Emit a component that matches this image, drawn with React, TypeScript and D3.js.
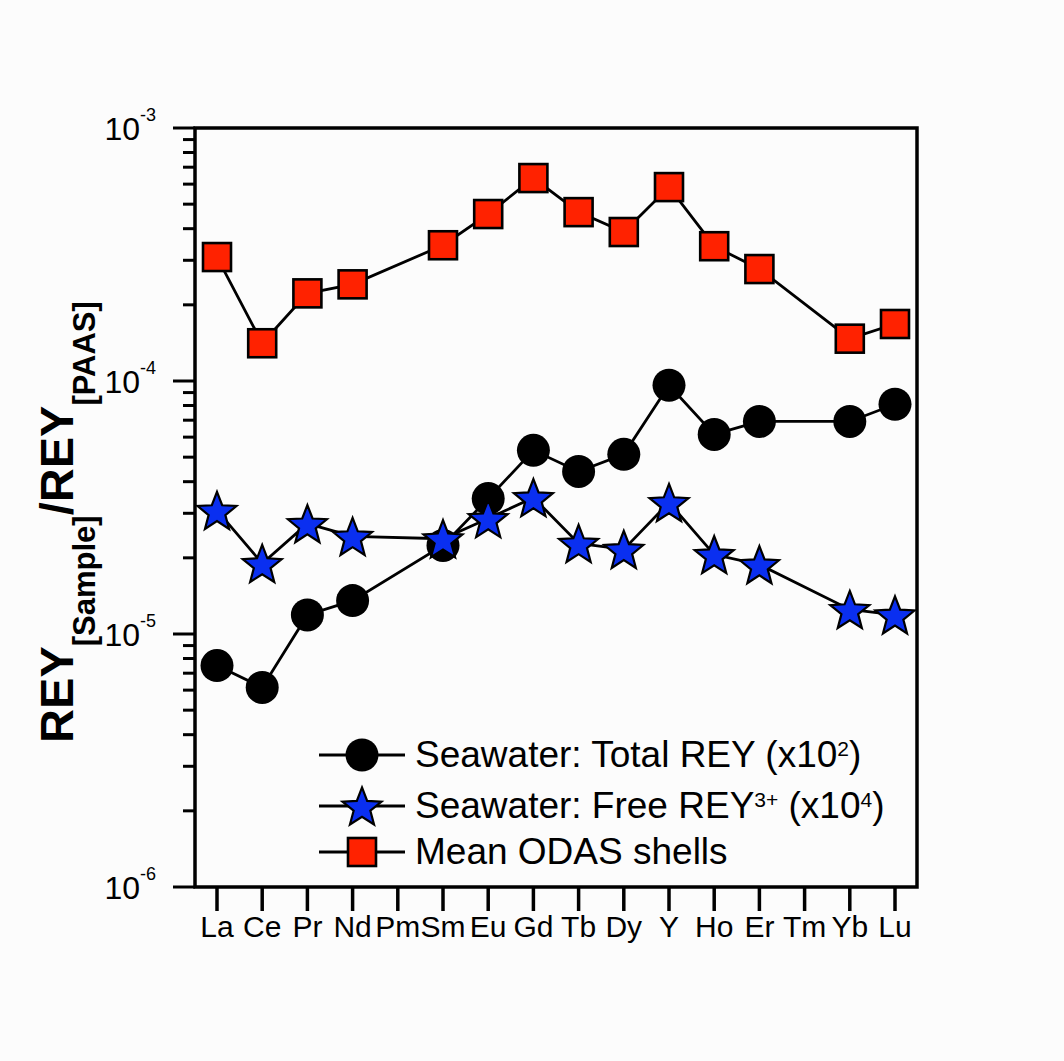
import React from "react";
import * as d3 from "d3";

const elements = ["La","Ce","Pr","Nd","Pm","Sm","Eu","Gd","Tb","Dy","Y","Ho","Er","Tm","Yb","Lu"];
const totalREY: (number | null)[] = [7.5e-6, 6.15e-6, 1.19e-5, 1.355e-5, null, 2.24e-5, 3.43e-5, 5.32e-5, 4.39e-5, 5.13e-5, 9.62e-5, 6.15e-5, 6.92e-5, null, 6.92e-5, 8.09e-5];
const freeREY: (number | null)[] = [3.08e-5, 1.9e-5, 2.73e-5, 2.43e-5, null, 2.38e-5, 2.86e-5, 3.46e-5, 2.28e-5, 2.16e-5, 3.31e-5, 2.06e-5, 1.88e-5, null, 1.25e-5, 1.19e-5];
const odasShells: (number | null)[] = [3.09e-4, 1.41e-4, 2.22e-4, 2.41e-4, null, 3.44e-4, 4.57e-4, 6.34e-4, 4.65e-4, 3.88e-4, 5.84e-4, 3.41e-4, 2.77e-4, null, 1.47e-4, 1.68e-4];
const yDomain = [1e-6, 1e-3];
const majorTickExps = [-6, -5, -4, -3];
const legendLabels = ["Seawater: Total REY (x10", "Seawater: Free REY", "Mean ODAS shells"];

const W = 1064, H = 1061;
const L = 195, R = 917, T = 128, B = 887;

const FONT = "'Liberation Sans', Arial, sans-serif";

function starPath(Ro: number, ri: number) {
  const pts: string[] = [];
  const off = 0.095 * Ro;
  for (let i = 0; i < 10; i++) {
    const r = i % 2 === 0 ? Ro : ri;
    const a = -Math.PI / 2 + (i * Math.PI) / 5;
    pts.push(`${(r * Math.cos(a)).toFixed(2)},${(r * Math.sin(a) + off).toFixed(2)}`);
  }
  return "M" + pts.join("L") + "Z";
}

const STAR = starPath(20.5, 8.8);
const LW = 2.8;

export default function App() {
  const x = d3.scalePoint<string>().domain(elements).range([217, 895]);
  const y = d3.scaleLog().domain(yDomain).range([B, T]);
  const line = d3.line<[number, number]>().x(d => d[0]).y(d => d[1]);
  const pts = (vals: (number | null)[]) =>
    elements.map((e, i) => [e, vals[i]] as [string, number | null])
      .filter(d => d[1] != null)
      .map(d => [x(d[0]) as number, y(d[1] as number)] as [number, number]);

  const tot = pts(totalREY), fr = pts(freeREY), od = pts(odasShells);
  const ticks = y.ticks();
  const isMajor = (v: number) => Math.abs(Math.log10(v) - Math.round(Math.log10(v))) < 1e-9;

  const legY = [755, 806, 852];

  return (
    <svg width={W} height={H} style={{ position: "absolute", left: 0, top: 0, background: "#fcfcfc" }} fontFamily={FONT}>
      <rect x={0} y={0} width={W} height={H} fill="#fcfcfc" />
      {/* y ticks */}
      {ticks.map((t, i) => (
        <line key={"yt" + i} x1={isMajor(t) ? 173 : 183} x2={L} y1={y(t)} y2={y(t)} stroke="#000" strokeWidth={3} />
      ))}
      {majorTickExps.map(e => (
        <text key={"yl" + e} x={156} y={y(Math.pow(10, e)) + 12} textAnchor="end" fontSize={32} fill="#000">
          10<tspan fontSize={18} dy={-19}>{String(e)}</tspan>
        </text>
      ))}
      {/* x ticks */}
      {elements.map(e => (
        <g key={"xt" + e}>
          <line x1={x(e)} x2={x(e)} y1={B} y2={911} stroke="#000" strokeWidth={3.5} />
          <text x={x(e)} y={937} textAnchor="middle" fontSize={30} fill="#000">{e}</text>
        </g>
      ))}
      <rect x={L} y={T} width={R - L} height={B - T} fill="none" stroke="#000" strokeWidth={3.5} />

      {/* Total REY */}
      <path d={line(tot) || ""} fill="none" stroke="#000" strokeWidth={LW} />
      {tot.map((p, i) => <circle key={"c" + i} cx={p[0]} cy={p[1]} r={16.5} fill="#000" />)}
      {/* Free REY */}
      <path d={line(fr) || ""} fill="none" stroke="#000" strokeWidth={LW} />
      {fr.map((p, i) => <path key={"s" + i} d={STAR} transform={`translate(${p[0]},${p[1]})`} fill="#0a2ff0" stroke="#000" strokeWidth={2.2} />)}
      {/* ODAS */}
      <path d={line(od) || ""} fill="none" stroke="#000" strokeWidth={LW} />
      {od.map((p, i) => <rect key={"q" + i} x={p[0] - 14} y={p[1] - 14} width={28} height={28} fill="#ff2200" stroke="#000" strokeWidth={2.6} />)}

      {/* legend */}
      {legY.map((ly, i) => (
        <line key={"ll" + i} x1={319} x2={405} y1={ly} y2={ly} stroke="#000" strokeWidth={LW} />
      ))}
      <circle cx={362} cy={legY[0]} r={16.5} fill="#000" />
      <path d={STAR} transform={`translate(362,${legY[1]})`} fill="#0a2ff0" stroke="#000" strokeWidth={2.2} />
      <rect x={362 - 14} y={legY[2] - 14} width={28} height={28} fill="#ff2200" stroke="#000" strokeWidth={2.6} />
      <text x={415} y={legY[0] + 12} fontSize={37} fill="#000">
        {legendLabels[0]}<tspan fontSize={21} dy={-11}>2</tspan><tspan dy={11}>)</tspan>
      </text>
      <text x={415} y={legY[1] + 12} fontSize={37} fill="#000">
        {legendLabels[1]}<tspan fontSize={21} dy={-11}>3+</tspan><tspan dy={11}> (x10</tspan><tspan fontSize={21} dy={-11}>4</tspan><tspan dy={11}>)</tspan>
      </text>
      <text x={415} y={legY[2] + 12} fontSize={37} fill="#000">{legendLabels[2]}</text>

      {/* y axis title */}
      <text transform="translate(73,522) rotate(-90)" textAnchor="middle" fontWeight="bold" fontSize={47} fill="#000">
        REY<tspan fontSize={31} dy={22}>[Sample]</tspan><tspan dy={-22}>/REY</tspan><tspan fontSize={31} dy={22}>[PAAS]</tspan>
      </text>
    </svg>
  );
}
